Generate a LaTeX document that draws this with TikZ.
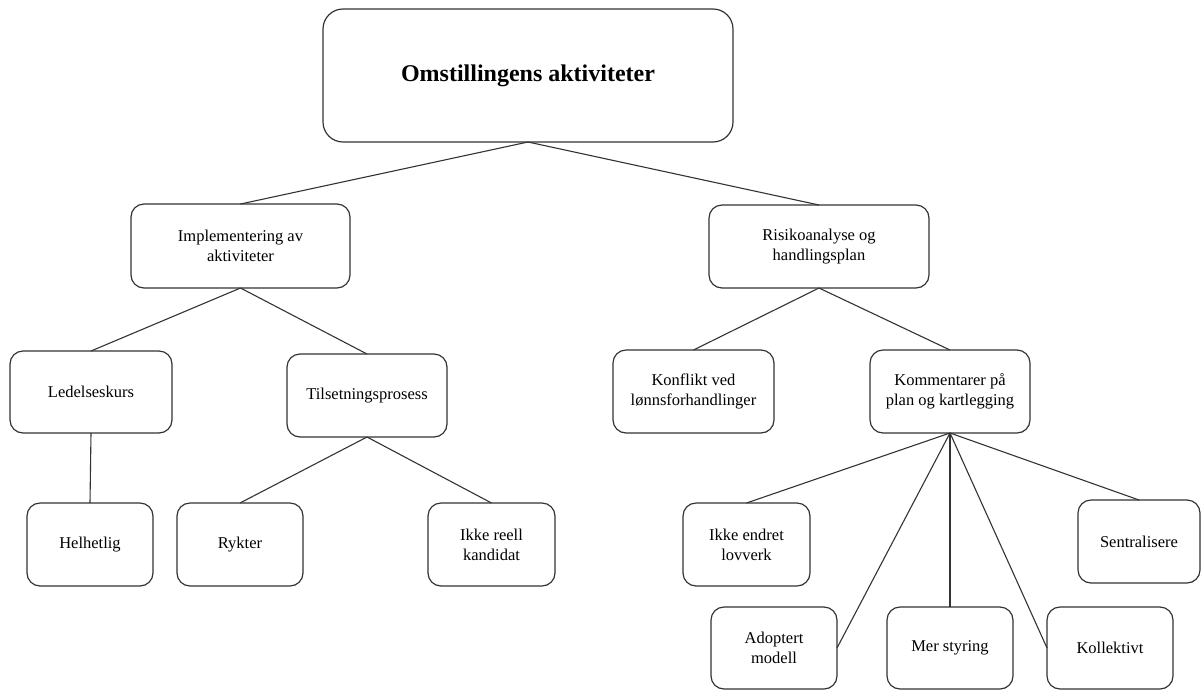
\documentclass[tikz,border=0pt]{standalone}
\usepackage{fontspec}
\setmainfont{Liberation Serif}
\begin{document}
\begin{tikzpicture}[x=1pt,y=-1pt,
  box/.style={draw=black!80,line width=1.2pt,rounded corners=13pt,
    outer sep=0pt,inner sep=0pt,align=center,text=black,
    font=\fontsize{16.5}{20}\selectfont},
  link/.style={draw=black!80,line width=1.1pt}]
\useasboundingbox (0,0) rectangle (1201,689);

% top level
\node[box,rounded corners=20pt,minimum width=410pt,minimum height=133pt,
  font=\fontsize{24}{28}\selectfont\bfseries] (root) at (528,75.5) {Omstillingens aktiviteter};

% second level
\node[box,minimum width=219pt,minimum height=84pt] (impl) at (240.5,246) {Implementering av\\aktiviteter};
\node[box,minimum width=220pt,minimum height=83pt] (risk) at (819,246.5) {Risikoanalyse og\\handlingsplan};

% third level
\node[box,minimum width=162pt,minimum height=82pt] (led) at (91,392) {Ledelseskurs};
\node[box,minimum width=160pt,minimum height=83pt] (tils) at (367,395.5) {Tilsetningsprosess};
\node[box,minimum width=161pt,minimum height=83pt] (konf) at (693.5,391.5) {Konflikt ved\\lønnsforhandlinger};
\node[box,minimum width=160pt,minimum height=83pt] (komm) at (950,391.5) {Kommentarer på\\plan og kartlegging};

% leaves
\node[box,minimum width=126pt,minimum height=83pt] (helh) at (90,544.5) {Helhetlig};
\node[box,minimum width=126pt,minimum height=83pt] (rykt) at (240,544.5) {Rykter};
\node[box,minimum width=127pt,minimum height=83pt] (reell) at (491.5,544.5) {Ikke reell\\kandidat};
\node[box,minimum width=127pt,minimum height=83pt] (endret) at (746.5,544.5) {Ikke endret\\lovverk};
\node[box,minimum width=122pt,minimum height=83pt] (sentr) at (1139,541.5) {Sentralisere};
\node[box,minimum width=126pt,minimum height=82pt] (adopt) at (774,648) {Adoptert\\modell};
\node[box,minimum width=126pt,minimum height=82pt] (mer) at (950,648) {Mer styring};
\node[box,minimum width=126pt,minimum height=82pt] (koll) at (1110,648) {Kollektivt};

% connectors
\draw[link] (root.south) -- (impl.north);
\draw[link] (root.south) -- (risk.north);
\draw[link] (impl.south) -- (led.north);
\draw[link] (impl.south) -- (tils.north);
\draw[link] (led.south) -- (helh.north);
\draw[link] (tils.south) -- (rykt.north);
\draw[link] (tils.south) -- (reell.north);
\draw[link] (risk.south) -- (konf.north);
\draw[link] (risk.south) -- (komm.north);
\draw[link] (komm.south) -- (endret.north);
\draw[link] (komm.south) -- (adopt.east);
\draw[link] (komm.south) -- (mer.north);
\draw[link] (komm.south) -- (koll.west);
\draw[link] (komm.south) -- (sentr.north);
\end{tikzpicture}
\end{document}
